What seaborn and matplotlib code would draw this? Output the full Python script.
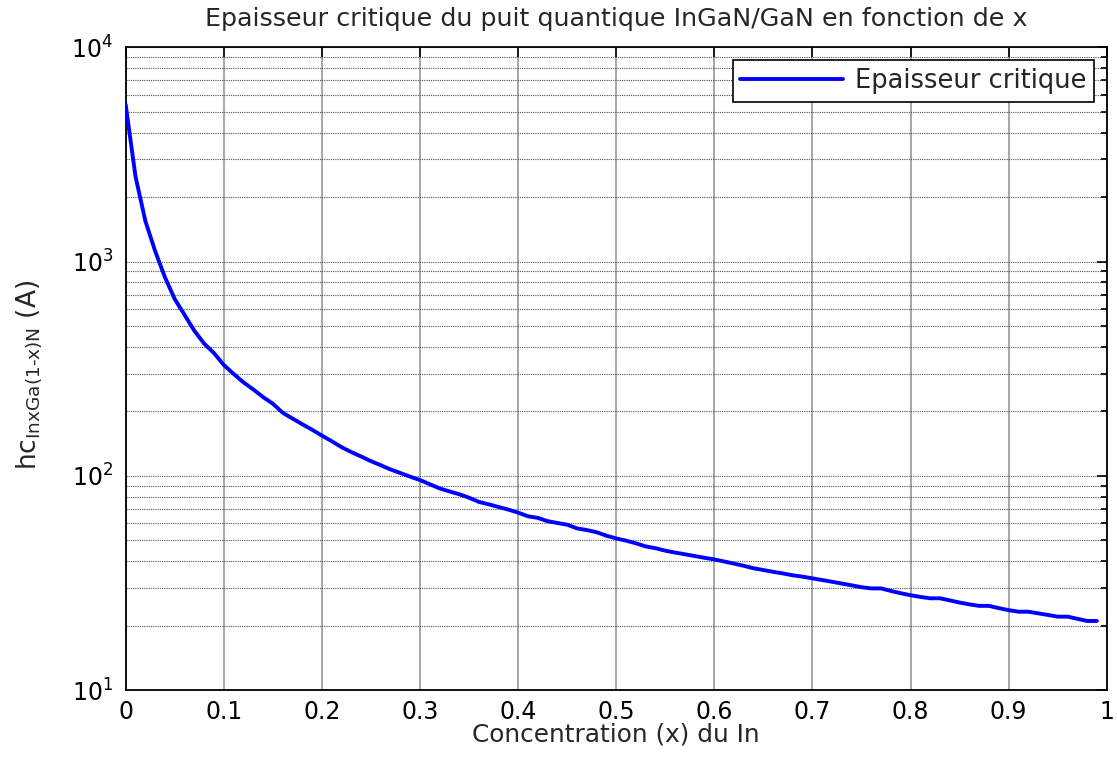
import numpy as np
import pandas as pd
import matplotlib
matplotlib.use("Agg")
import matplotlib.pyplot as plt
import matplotlib.ticker as mticker
import seaborn as sns

# Indium concentration x (step 0.01)
concentration = [round(0.01 * i, 2) for i in range(100)]

# Critical thickness hc of InxGa(1-x)N on GaN, in angstrom
critical_thickness = [
    5400, 2500, 1550, 1120, 845, 668, 564, 475, 414, 374,
    329, 299, 273, 253, 233, 217, 197, 185, 174, 164,
    154, 145, 136, 129, 123, 117, 112, 107, 103, 99.0,
    95.5, 91.3, 87.3, 84.5, 82.0, 79.0, 75.5, 73.6, 71.5, 69.5,
    67.3, 64.7, 63.6, 61.4, 60.2, 59.1, 56.8, 55.8, 54.5, 52.5,
    51.0, 49.8, 48.4, 46.8, 45.9, 44.7, 43.8, 43.0, 42.2, 41.4,
    40.7, 39.8, 38.9, 38.0, 37.0, 36.3, 35.6, 35.0, 34.3, 33.8,
    33.2, 32.6, 32.0, 31.4, 30.8, 30.2, 29.8, 29.8, 29.0, 28.3,
    27.7, 27.2, 26.8, 26.8, 26.2, 25.6, 25.1, 24.7, 24.7, 24.1,
    23.6, 23.2, 23.2, 22.8, 22.4, 22.0, 22.0, 21.5, 21.0, 21.0,
]

x_ticks = [0, 0.1, 0.2, 0.3, 0.4, 0.5, 0.6, 0.7, 0.8, 0.9, 1]
x_tick_labels = ["0", "0.1", "0.2", "0.3", "0.4", "0.5", "0.6", "0.7", "0.8", "0.9", "1"]

title_text = "Epaisseur critique du puit quantique InGaN/GaN en fonction de x"
x_label = "Concentration (x) du In"
y_label = "hc$_{\\mathregular{InxGa(1\u2010x)N}}$ (A)"
series_label = "Epaisseur critique"

sns.set_style("white")
plt.rcParams["font.family"] = ["DejaVu Sans"]
plt.rcParams["mathtext.fontset"] = "dejavusans"

df = pd.DataFrame({"x": concentration, "hc": critical_thickness})

fig = plt.figure(figsize=(11.17, 7.6), dpi=100)
ax = fig.add_axes([0.1125, 0.0921, 0.8783, 0.8457])

sns.lineplot(data=df, x="x", y="hc", ax=ax, color="#0000ff", linewidth=2.8,
             label=series_label, legend=False, zorder=5)

ax.set_yscale("log")
ax.set_xlim(0, 1)
ax.set_ylim(10, 1e4)

ax.set_xticks(x_ticks)
ax.set_xticklabels(x_tick_labels)
ax.yaxis.set_major_locator(mticker.LogLocator(base=10, numticks=10))
ax.yaxis.set_minor_locator(mticker.LogLocator(base=10, subs=np.arange(2, 10), numticks=40))
ax.yaxis.set_minor_formatter(mticker.NullFormatter())

# grid: solid grey verticals, dotted horizontals at every decade subdivision
ax.grid(False)
ax.xaxis.grid(True, which="major", color="#8f8f8f", linewidth=1.1, linestyle="-")
ax.yaxis.grid(True, which="both", color="#505050", linewidth=0.8, linestyle=(0, (1, 1)))
ax.set_axisbelow(True)

for side in ["top", "bottom", "left", "right"]:
    ax.spines[side].set_visible(True)
    ax.spines[side].set_color("black")
    ax.spines[side].set_linewidth(1.3)

ax.tick_params(which="both", direction="in", top=True, right=True,
               colors="black", width=1.2)
ax.tick_params(which="major", length=7, labelsize=17, pad=7)
ax.tick_params(which="minor", length=4)
ax.tick_params(axis="y", which="major", pad=9)

ax.set_title(title_text, fontsize=18.3, pad=15)
ax.set_xlabel(x_label, fontsize=17.8, labelpad=-1)
ax.set_ylabel(y_label, fontsize=19)
ax.yaxis.set_label_coords(-0.083, 0.49)

leg = ax.legend(loc="upper right", fontsize=18.5, frameon=True, fancybox=False,
                framealpha=1, edgecolor="black", borderpad=0.3,
                handlelength=4.0, handletextpad=0.45, borderaxespad=0.5)
leg.get_frame().set_linewidth(1.2)

fig.savefig("out.png", dpi=100, facecolor="white")
